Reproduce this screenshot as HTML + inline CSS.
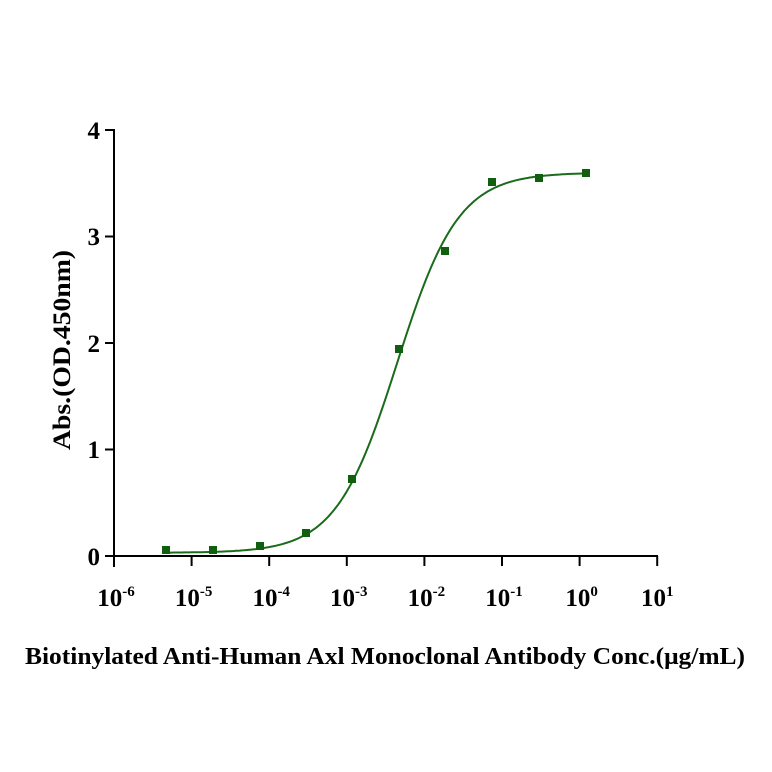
<!DOCTYPE html>
<html><head><meta charset="utf-8"><style>body{margin:0;background:#fff}svg{display:block}text{font-family:"Liberation Serif",serif;font-weight:bold;fill:#000}</style></head>
<body>
<svg id="s" width="772" height="772" viewBox="0 0 772 772">
<g stroke="#000" stroke-width="2" fill="none">
<line x1="114" y1="129" x2="114" y2="567"/>
<line x1="113" y1="556" x2="658" y2="556"/>
<line x1="105" y1="130" x2="114" y2="130"/>
<line x1="105" y1="236.5" x2="114" y2="236.5"/>
<line x1="105" y1="343" x2="114" y2="343"/>
<line x1="105" y1="449.5" x2="114" y2="449.5"/>
<line x1="105" y1="556" x2="114" y2="556"/>
<line x1="191.6" y1="556" x2="191.6" y2="566"/>
<line x1="269.2" y1="556" x2="269.2" y2="566"/>
<line x1="346.8" y1="556" x2="346.8" y2="566"/>
<line x1="424.4" y1="556" x2="424.4" y2="566"/>
<line x1="502" y1="556" x2="502" y2="566"/>
<line x1="579.6" y1="556" x2="579.6" y2="566"/>
<line x1="657.2" y1="556" x2="657.2" y2="566"/>
</g>
<g font-size="25" text-anchor="end">
<text x="100" y="139">4</text><text x="100" y="245">3</text><text x="100" y="352">2</text><text x="100" y="458">1</text><text x="100" y="565">0</text>
</g>
<g font-size="25" text-anchor="middle">
<text x="116" y="606">10<tspan font-size="15" dy="-10">-6</tspan></text>
<text x="193.6" y="606">10<tspan font-size="15" dy="-10">-5</tspan></text>
<text x="271.2" y="606">10<tspan font-size="15" dy="-10">-4</tspan></text>
<text x="348.8" y="606">10<tspan font-size="15" dy="-10">-3</tspan></text>
<text x="426.4" y="606">10<tspan font-size="15" dy="-10">-2</tspan></text>
<text x="504" y="606">10<tspan font-size="15" dy="-10">-1</tspan></text>
<text x="581.6" y="606">10<tspan font-size="15" dy="-10">0</tspan></text>
<text x="657.2" y="606">10<tspan font-size="15" dy="-10">1</tspan></text>
</g>
<text x="25" y="664" font-size="24" textLength="720" lengthAdjust="spacingAndGlyphs">Biotinylated Anti-Human Axl Monoclonal Antibody Conc.(μg/mL)</text>
<text transform="translate(70,350) rotate(-90)" font-size="25" text-anchor="middle" textLength="200" lengthAdjust="spacingAndGlyphs">Abs.(OD.450nm)</text>
<path id="c" fill="none" stroke="#1a6b1a" stroke-width="2"/>
<g id="p" fill="#0f5f0f"></g>
</svg>
<script>
var d="";for(var x=166;x<=587;x+=2){var l=(x-114)/77.6-6;var v=0.03+3.57/(1+Math.pow(10,(-2.35-l)*1.1));d+=(d?"L":"M")+x+","+(556-v*106.5).toFixed(1);}
document.getElementById("c").setAttribute("d",d);
var pts=[[166,550],[213,550],[260,546],[306,533],[352,479],[399,349],[445,251],[492,182],[539,178],[586,173]];
var g=document.getElementById("p");pts.forEach(function(p){var r=document.createElementNS("http://www.w3.org/2000/svg","rect");r.setAttribute("x",p[0]-4);r.setAttribute("y",p[1]-4);r.setAttribute("width",8);r.setAttribute("height",8);g.appendChild(r);});
</script>
</body></html>
